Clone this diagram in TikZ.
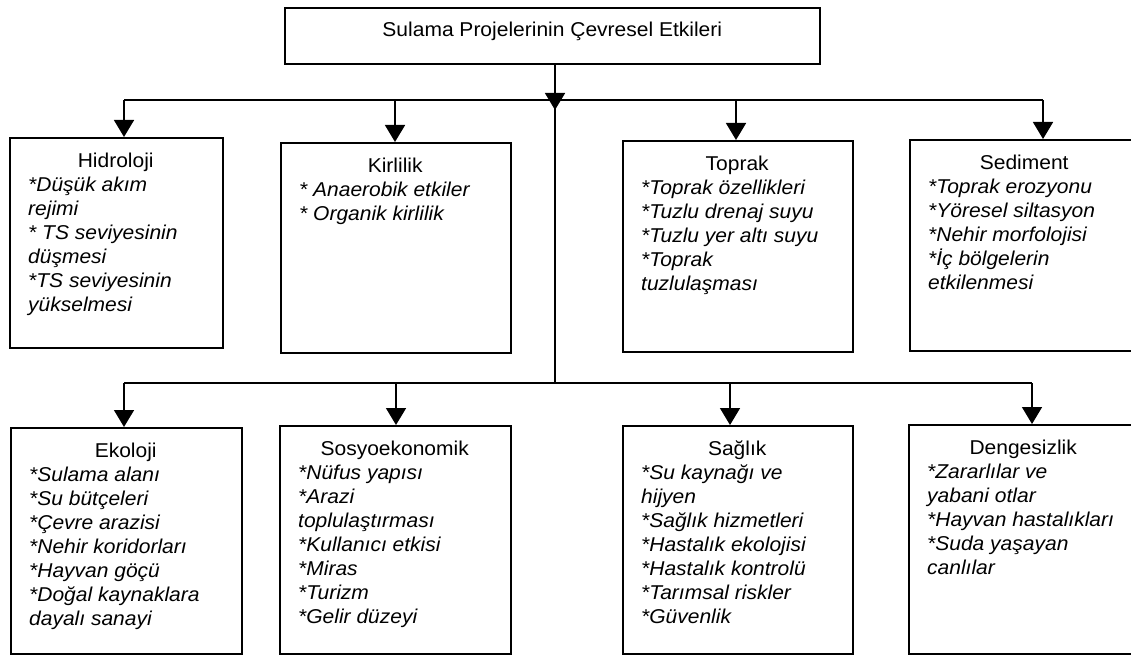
\documentclass[tikz,border=0pt]{standalone}
\usepackage{fontspec}
\setmainfont{Liberation Sans}[FakeStretch=1.05]
\usetikzlibrary{arrows.meta}
\newcommand{\bas}[2]{\makebox[#1pt]{\upshape\strut #2}}
\tikzset{
	cizgi/.style={line width=1.6pt},
	oklu/.style={cizgi, -{Triangle[width=20pt,length=17pt]}},
	kutu/.style 2 args={draw, cizgi, anchor=north west, inner sep=0pt, minimum width=#1, minimum height=#2},
	yazi/.style={anchor=north west, inner sep=0pt, align=left, font=\fontsize{20}{24}\selectfont\itshape}
}
\begin{document}
\begin{tikzpicture}[x=1pt, y=-1pt]
	%%%%% START %%%%%
	\useasboundingbox (0, 0) rectangle (1131, 655);
	
	\node[kutu={535pt}{56pt}, text height=15pt, text depth=13pt, font=\fontsize{20}{24}\selectfont] (baslik) at (284, 7) {Sulama Projelerinin Çevresel Etkileri};
	
	% ust sira
	\node[kutu={213pt}{210pt}] (hidro) at (9, 137) {};
	\node[kutu={230pt}{210pt}] (kir) at (280, 142) {};
	\node[kutu={230pt}{211pt}] (toprak) at (622, 140) {};
	\node[kutu={230pt}{211pt}] (sed) at (909, 139) {};
	
	% alt sira
	\node[kutu={231pt}{226pt}] (eko) at (10, 427) {};
	\node[kutu={231pt}{228pt}] (sosyo) at (279, 425) {};
	\node[kutu={230pt}{228pt}] (saglik) at (622, 425) {};
	\node[kutu={230pt}{229pt}] (denge) at (908, 424) {};
	
	\node[yazi] (hidroYazi) at ([shift={(19, 13.2)}]hidro.north west) {\bas{175}{Hidroloji}\\*Düşük akım\\rejimi\\* TS seviyesinin\\düşmesi\\*TS seviyesinin\\yükselmesi};
	\node[yazi] (kirYazi) at ([shift={(19, 13.2)}]kir.north west) {\bas{192}{Kirlilik}\\* Anaerobik etkiler\\* Organik kirlilik};
	\node[yazi] (toprakYazi) at ([shift={(19, 13.2)}]toprak.north west) {\bas{192}{Toprak}\\*Toprak özellikleri\\*Tuzlu drenaj suyu\\*Tuzlu yer altı suyu\\*Toprak\\tuzlulaşması};
	\node[yazi] (sedYazi) at ([shift={(19, 13.2)}]sed.north west) {\bas{192}{Sediment}\\*Toprak erozyonu\\*Yöresel siltasyon\\*Nehir morfolojisi\\*İç bölgelerin\\etkilenmesi};
	
	\node[yazi] (ekoYazi) at ([shift={(19, 13.2)}]eko.north west) {\bas{193}{Ekoloji}\\*Sulama alanı\\*Su bütçeleri\\*Çevre arazisi\\*Nehir koridorları\\*Hayvan göçü\\*Doğal kaynaklara\\dayalı sanayi};
	\node[yazi] (sosyoYazi) at ([shift={(19, 13.2)}]sosyo.north west) {\bas{193}{Sosyoekonomik}\\*Nüfus yapısı\\*Arazi\\toplulaştırması\\*Kullanıcı etkisi\\*Miras\\*Turizm\\*Gelir düzeyi};
	\node[yazi] (saglikYazi) at ([shift={(19, 13.2)}]saglik.north west) {\bas{192}{Sağlık}\\*Su kaynağı ve\\hijyen\\*Sağlık hizmetleri\\*Hastalık ekolojisi\\*Hastalık kontrolü\\*Tarımsal riskler\\*Güvenlik};
	\node[yazi] (dengeYazi) at ([shift={(19, 13.2)}]denge.north west) {\bas{192}{Dengesizlik}\\*Zararlılar ve\\yabani otlar\\*Hayvan hastalıkları\\*Suda yaşayan\\canlılar};
	
	% baglantilar
	\coordinate (govde) at (555, 383);
	\coordinate (okucu) at (555, 110);
	\coordinate (u1) at (124, 100);
	\coordinate (u2) at (395, 100);
	\coordinate (u3) at (736, 100);
	\coordinate (u4) at (1043, 100);
	\coordinate (a1) at (124, 383);
	\coordinate (a2) at (396, 383);
	\coordinate (a3) at (730, 383);
	\coordinate (a4) at (1032, 383);
	
	\draw[cizgi] (baslik.south -| govde) -- (govde);
	\draw[oklu] (baslik.south -| govde) -- (okucu);
	\draw[cizgi] (u1) -- (u4);
	\draw[cizgi] (a1) -- (a4);
	
	\draw[oklu] (u1) -- (u1 |- hidro.north);
	\draw[oklu] (u2) -- (u2 |- kir.north);
	\draw[oklu] (u3) -- (u3 |- toprak.north);
	\draw[oklu] (u4) -- (u4 |- sed.north);
	\draw[oklu] (a1) -- (a1 |- eko.north);
	\draw[oklu] (a2) -- (a2 |- sosyo.north);
	\draw[oklu] (a3) -- (a3 |- saglik.north);
	\draw[oklu] (a4) -- (a4 |- denge.north);
	%%%%% END %%%%%
\end{tikzpicture}
\end{document}
